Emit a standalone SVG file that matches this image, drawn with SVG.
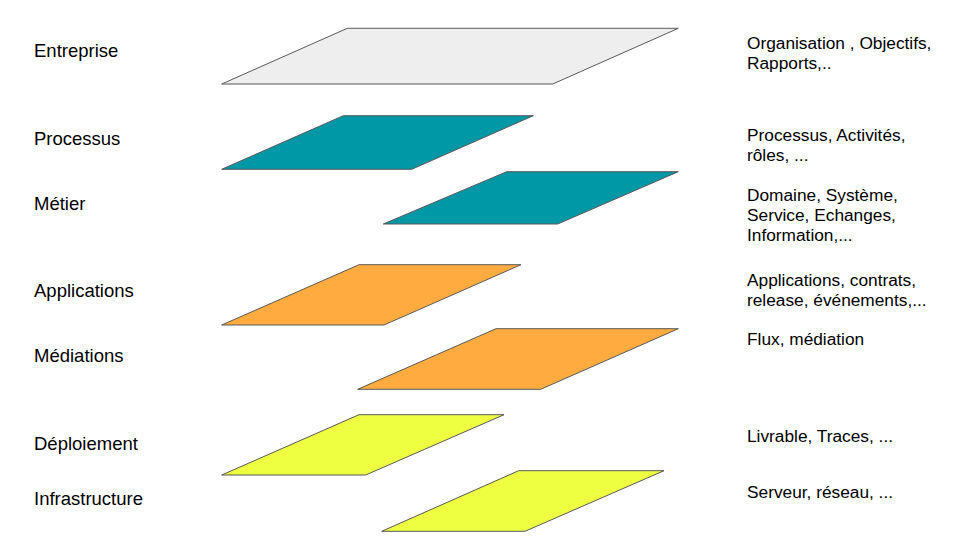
<svg xmlns="http://www.w3.org/2000/svg" width="960" height="540" viewBox="0 0 960 540">
<style>
.bg{fill:#ffffff}
.layer{stroke:#595959;stroke-width:1;stroke-linejoin:miter}
.gray{fill:#eeeeee}
.teal{fill:#0097a7}
.orange{fill:#ffab40}
.yellow{fill:#eeff41}
.lbl{font-family:"Liberation Sans",Arial,sans-serif;font-size:18.5px;fill:#000000}
.desc{font-family:"Liberation Sans",Arial,sans-serif;font-size:17.3px;fill:#000000}
</style>
<rect class="bg" x="0" y="0" width="960" height="540"/>
<g id="connectors"></g>
<g id="entreprise">
<polygon class="layer gray" points="347.3,28.3 678.3,28.3 552.7,84 221.7,84"/>
<text class="lbl" x="34" y="57">Entreprise</text>
<text class="desc" x="747" y="49">Organisation , Objectifs,</text>
<text class="desc" x="747" y="69">Rapports,..</text>
</g>
<g id="processus">
<polygon class="layer teal" points="343.3,115.7 533.3,115.7 411.7,169.3 221.7,169.3"/>
<text class="lbl" x="34" y="145">Processus</text>
<text class="desc" x="747" y="141">Processus, Activités,</text>
<text class="desc" x="747" y="161">rôles, ...</text>
</g>
<g id="metier">
<polygon class="layer teal" points="506.7,171.7 678.3,171.7 557.7,224 383.3,224"/>
<text class="lbl" x="34" y="210">Métier</text>
<text class="desc" x="747" y="201">Domaine, Système,</text>
<text class="desc" x="747" y="221">Service, Echanges,</text>
<text class="desc" x="747" y="241">Information,...</text>
</g>
<g id="applications">
<polygon class="layer orange" points="359,264.7 521,264.7 384,325 221.7,325"/>
<text class="lbl" x="34" y="297">Applications</text>
<text class="desc" x="747" y="286">Applications, contrats,</text>
<text class="desc" x="747" y="306">release, événements,...</text>
</g>
<g id="mediations">
<polygon class="layer orange" points="496,328.7 678.3,328.7 540.7,389.3 357.7,389.3"/>
<text class="lbl" x="34" y="362">Médiations</text>
<text class="desc" x="747" y="345">Flux, médiation</text>
</g>
<g id="deploiement">
<polygon class="layer yellow" points="359,414.7 504,414.7 365.7,475 221.7,475"/>
<text class="lbl" x="34" y="450">Déploiement</text>
<text class="desc" x="747" y="442">Livrable, Traces, ...</text>
</g>
<g id="infrastructure">
<polygon class="layer yellow" points="518.7,470.7 664,470.7 525,531.3 381.7,531.3"/>
<text class="lbl" x="34" y="505">Infrastructure</text>
<text class="desc" x="747" y="498">Serveur, réseau, ...</text>
</g>
</svg>
